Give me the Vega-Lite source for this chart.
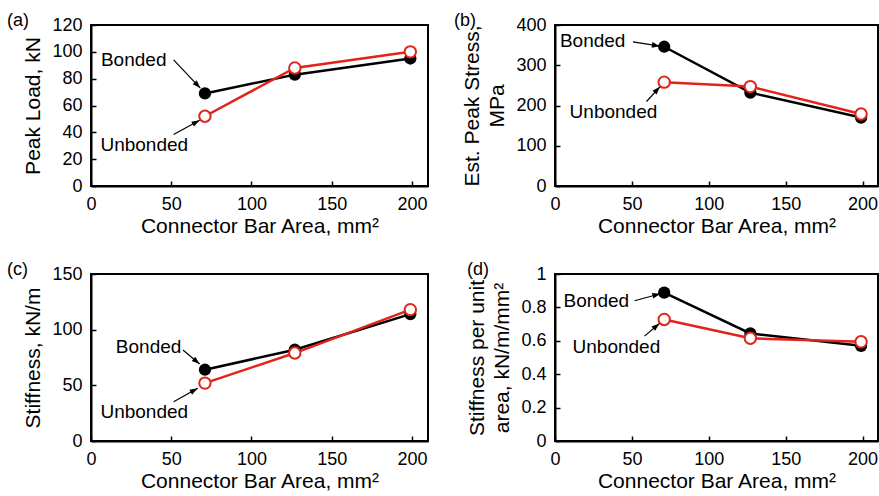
{
  "$schema": "https://vega.github.io/schema/vega-lite/v6.json",
  "padding": {"left": 6, "top": 11, "right": 0, "bottom": 0},
  "background": "white",
  "datasets": {
    "main": [
      {"panel": "a", "series": "Bonded", "area": 71, "value": 69},
      {"panel": "a", "series": "Bonded", "area": 127, "value": 83},
      {"panel": "a", "series": "Bonded", "area": 199, "value": 95},
      {"panel": "a", "series": "Unbonded", "area": 71, "value": 52},
      {"panel": "a", "series": "Unbonded", "area": 127, "value": 88},
      {"panel": "a", "series": "Unbonded", "area": 199, "value": 100},
      {"panel": "b", "series": "Bonded", "area": 71, "value": 346},
      {"panel": "b", "series": "Bonded", "area": 127, "value": 232},
      {"panel": "b", "series": "Bonded", "area": 199, "value": 170},
      {"panel": "b", "series": "Unbonded", "area": 71, "value": 258},
      {"panel": "b", "series": "Unbonded", "area": 127, "value": 247},
      {"panel": "b", "series": "Unbonded", "area": 199, "value": 179},
      {"panel": "c", "series": "Bonded", "area": 71, "value": 64},
      {"panel": "c", "series": "Bonded", "area": 127, "value": 82},
      {"panel": "c", "series": "Bonded", "area": 199, "value": 114},
      {"panel": "c", "series": "Unbonded", "area": 71, "value": 52},
      {"panel": "c", "series": "Unbonded", "area": 127, "value": 79},
      {"panel": "c", "series": "Unbonded", "area": 199, "value": 118},
      {"panel": "d", "series": "Bonded", "area": 71, "value": 0.888},
      {"panel": "d", "series": "Bonded", "area": 127, "value": 0.644},
      {"panel": "d", "series": "Bonded", "area": 199, "value": 0.570},
      {"panel": "d", "series": "Unbonded", "area": 71, "value": 0.728},
      {"panel": "d", "series": "Unbonded", "area": 127, "value": 0.615},
      {"panel": "d", "series": "Unbonded", "area": 199, "value": 0.594}
    ],
    "notes": [
      {"panel": "a", "series": "Bonded", "tx": 26.6, "ty": 94, "x1": 51.5, "y1": 94, "x2": 68.1, "y2": 73},
      {"panel": "a", "series": "Unbonded", "tx": 33.2, "ty": 30.4, "x1": 51.5, "y1": 38.4, "x2": 67.7, "y2": 49},
      {"panel": "b", "series": "Bonded", "tx": 24.5, "ty": 361, "x1": 50.7, "y1": 358, "x2": 68.2, "y2": 347.5},
      {"panel": "b", "series": "Unbonded", "tx": 38, "ty": 183.4, "x1": 59.5, "y1": 210, "x2": 68.2, "y2": 246.5},
      {"panel": "c", "series": "Bonded", "tx": 35.9, "ty": 84.1, "x1": 57.3, "y1": 81.7, "x2": 67.7, "y2": 69.2},
      {"panel": "c", "series": "Unbonded", "tx": 33.2, "ty": 25.7, "x1": 51.5, "y1": 35.3, "x2": 66.5, "y2": 47.3},
      {"panel": "d", "series": "Bonded", "tx": 26.9, "ty": 0.84, "x1": 51.7, "y1": 0.84, "x2": 68.5, "y2": 0.882},
      {"panel": "d", "series": "Unbonded", "tx": 39.9, "ty": 0.564, "x1": 58.2, "y1": 0.628, "x2": 67.9, "y2": 0.704}
    ]
  },
  "columns": 2,
  "align": "each",
  "spacing": {"column": 24, "row": 23},
  "concat": [
    {
      "width": 337, "height": 161,
      "title": {"text": "(a)", "dx": -84},
      "layer": [
        {"data": {"name": "main"}, "transform": [{"filter": "datum.panel === 'a'"}],
         "mark": {"type": "line", "strokeWidth": 2.5},
         "encoding": {
           "x": {"field": "area", "type": "quantitative", "scale": {"domain": [0, 210], "nice": false}, "axis": {"values": [0, 50, 100, 150, 200], "labelOverlap": false, "title": "Connector Bar Area, mm²"}},
           "y": {"field": "value", "type": "quantitative", "scale": {"domain": [0, 120], "nice": false}, "axis": {"values": [0, 20, 40, 60, 80, 100, 120], "labelOverlap": false, "title": "Peak Load, kN"}},
           "color": {"field": "series", "type": "nominal", "scale": {"domain": ["Bonded", "Unbonded"], "range": ["#000000", "#e2231a"]}, "legend": null}
         }},
        {"data": {"name": "main"}, "transform": [{"filter": "datum.panel === 'a' && datum.series === 'Bonded'"}],
         "mark": {"type": "point", "filled": true, "color": "#000000", "size": 150, "opacity": 1},
         "encoding": {"x": {"field": "area", "type": "quantitative"}, "y": {"field": "value", "type": "quantitative"}}},
        {"data": {"name": "main"}, "transform": [{"filter": "datum.panel === 'a' && datum.series === 'Unbonded'"}],
         "mark": {"type": "point", "filled": true, "fill": "white", "stroke": "#e2231a", "strokeWidth": 2, "size": 130, "opacity": 1},
         "encoding": {"x": {"field": "area", "type": "quantitative"}, "y": {"field": "value", "type": "quantitative"}}},
        {"data": {"name": "notes"}, "transform": [{"filter": "datum.panel === 'a'"}],
         "mark": {"type": "text", "fontSize": 19, "font": "Liberation Sans", "color": "black", "align": "center", "baseline": "middle"},
         "encoding": {"x": {"field": "tx", "type": "quantitative"}, "y": {"field": "ty", "type": "quantitative"}, "text": {"field": "series"}}},
        {"data": {"name": "notes"}, "transform": [{"filter": "datum.panel === 'a'"}],
         "mark": {"type": "rule", "color": "black", "strokeWidth": 1.2},
         "encoding": {"x": {"field": "x1", "type": "quantitative"}, "y": {"field": "y1", "type": "quantitative"}, "x2": {"field": "x2"}, "y2": {"field": "y2"}}},
        {"data": {"name": "notes"}, "transform": [{"filter": "datum.panel === 'a' && datum.series === 'Bonded'"}],
         "mark": {"type": "point", "shape": "M0,0L0.35,1L-0.35,1Z", "filled": true, "color": "black", "opacity": 1, "size": 256, "angle": 136},
         "encoding": {"x": {"field": "x2", "type": "quantitative"}, "y": {"field": "y2", "type": "quantitative"}}},
        {"data": {"name": "notes"}, "transform": [{"filter": "datum.panel === 'a' && datum.series === 'Unbonded'"}],
         "mark": {"type": "point", "shape": "M0,0L0.35,1L-0.35,1Z", "filled": true, "color": "black", "opacity": 1, "size": 256, "angle": 61},
         "encoding": {"x": {"field": "x2", "type": "quantitative"}, "y": {"field": "y2", "type": "quantitative"}}}
      ]
    },
    {
      "width": 323, "height": 161,
      "title": {"text": "(b)", "dx": -101},
      "layer": [
        {"data": {"name": "main"}, "transform": [{"filter": "datum.panel === 'b'"}],
         "mark": {"type": "line", "strokeWidth": 2.5},
         "encoding": {
           "x": {"field": "area", "type": "quantitative", "scale": {"domain": [0, 210], "nice": false}, "axis": {"values": [0, 50, 100, 150, 200], "labelOverlap": false, "title": "Connector Bar Area, mm²"}},
           "y": {"field": "value", "type": "quantitative", "scale": {"domain": [0, 400], "nice": false}, "axis": {"values": [0, 100, 200, 300, 400], "labelOverlap": false, "title": ["Est. Peak Stress,", "MPa"]}},
           "color": {"field": "series", "type": "nominal", "scale": {"domain": ["Bonded", "Unbonded"], "range": ["#000000", "#e2231a"]}, "legend": null}
         }},
        {"data": {"name": "main"}, "transform": [{"filter": "datum.panel === 'b' && datum.series === 'Bonded'"}],
         "mark": {"type": "point", "filled": true, "color": "#000000", "size": 150, "opacity": 1},
         "encoding": {"x": {"field": "area", "type": "quantitative"}, "y": {"field": "value", "type": "quantitative"}}},
        {"data": {"name": "main"}, "transform": [{"filter": "datum.panel === 'b' && datum.series === 'Unbonded'"}],
         "mark": {"type": "point", "filled": true, "fill": "white", "stroke": "#e2231a", "strokeWidth": 2, "size": 130, "opacity": 1},
         "encoding": {"x": {"field": "area", "type": "quantitative"}, "y": {"field": "value", "type": "quantitative"}}},
        {"data": {"name": "notes"}, "transform": [{"filter": "datum.panel === 'b'"}],
         "mark": {"type": "text", "fontSize": 19, "font": "Liberation Sans", "color": "black", "align": "center", "baseline": "middle"},
         "encoding": {"x": {"field": "tx", "type": "quantitative"}, "y": {"field": "ty", "type": "quantitative"}, "text": {"field": "series"}}},
        {"data": {"name": "notes"}, "transform": [{"filter": "datum.panel === 'b'"}],
         "mark": {"type": "rule", "color": "black", "strokeWidth": 1.2},
         "encoding": {"x": {"field": "x1", "type": "quantitative"}, "y": {"field": "y1", "type": "quantitative"}, "x2": {"field": "x2"}, "y2": {"field": "y2"}}},
        {"data": {"name": "notes"}, "transform": [{"filter": "datum.panel === 'b' && datum.series === 'Bonded'"}],
         "mark": {"type": "point", "shape": "M0,0L0.35,1L-0.35,1Z", "filled": true, "color": "black", "opacity": 1, "size": 256, "angle": 99},
         "encoding": {"x": {"field": "x2", "type": "quantitative"}, "y": {"field": "y2", "type": "quantitative"}}},
        {"data": {"name": "notes"}, "transform": [{"filter": "datum.panel === 'b' && datum.series === 'Unbonded'"}],
         "mark": {"type": "point", "shape": "M0,0L0.35,1L-0.35,1Z", "filled": true, "color": "black", "opacity": 1, "size": 256, "angle": 42},
         "encoding": {"x": {"field": "x2", "type": "quantitative"}, "y": {"field": "y2", "type": "quantitative"}}}
      ]
    },
    {
      "width": 337, "height": 167,
      "title": {"text": "(c)", "dx": -84},
      "layer": [
        {"data": {"name": "main"}, "transform": [{"filter": "datum.panel === 'c'"}],
         "mark": {"type": "line", "strokeWidth": 2.5},
         "encoding": {
           "x": {"field": "area", "type": "quantitative", "scale": {"domain": [0, 210], "nice": false}, "axis": {"values": [0, 50, 100, 150, 200], "labelOverlap": false, "title": "Connector Bar Area, mm²"}},
           "y": {"field": "value", "type": "quantitative", "scale": {"domain": [0, 150], "nice": false}, "axis": {"values": [0, 50, 100, 150], "labelOverlap": false, "title": "Stiffness, kN/m"}},
           "color": {"field": "series", "type": "nominal", "scale": {"domain": ["Bonded", "Unbonded"], "range": ["#000000", "#e2231a"]}, "legend": null}
         }},
        {"data": {"name": "main"}, "transform": [{"filter": "datum.panel === 'c' && datum.series === 'Bonded'"}],
         "mark": {"type": "point", "filled": true, "color": "#000000", "size": 150, "opacity": 1},
         "encoding": {"x": {"field": "area", "type": "quantitative"}, "y": {"field": "value", "type": "quantitative"}}},
        {"data": {"name": "main"}, "transform": [{"filter": "datum.panel === 'c' && datum.series === 'Unbonded'"}],
         "mark": {"type": "point", "filled": true, "fill": "white", "stroke": "#e2231a", "strokeWidth": 2, "size": 130, "opacity": 1},
         "encoding": {"x": {"field": "area", "type": "quantitative"}, "y": {"field": "value", "type": "quantitative"}}},
        {"data": {"name": "notes"}, "transform": [{"filter": "datum.panel === 'c'"}],
         "mark": {"type": "text", "fontSize": 19, "font": "Liberation Sans", "color": "black", "align": "center", "baseline": "middle"},
         "encoding": {"x": {"field": "tx", "type": "quantitative"}, "y": {"field": "ty", "type": "quantitative"}, "text": {"field": "series"}}},
        {"data": {"name": "notes"}, "transform": [{"filter": "datum.panel === 'c'"}],
         "mark": {"type": "rule", "color": "black", "strokeWidth": 1.2},
         "encoding": {"x": {"field": "x1", "type": "quantitative"}, "y": {"field": "y1", "type": "quantitative"}, "x2": {"field": "x2"}, "y2": {"field": "y2"}}},
        {"data": {"name": "notes"}, "transform": [{"filter": "datum.panel === 'c' && datum.series === 'Bonded'"}],
         "mark": {"type": "point", "shape": "M0,0L0.35,1L-0.35,1Z", "filled": true, "color": "black", "opacity": 1, "size": 256, "angle": 130},
         "encoding": {"x": {"field": "x2", "type": "quantitative"}, "y": {"field": "y2", "type": "quantitative"}}},
        {"data": {"name": "notes"}, "transform": [{"filter": "datum.panel === 'c' && datum.series === 'Unbonded'"}],
         "mark": {"type": "point", "shape": "M0,0L0.35,1L-0.35,1Z", "filled": true, "color": "black", "opacity": 1, "size": 256, "angle": 61},
         "encoding": {"x": {"field": "x2", "type": "quantitative"}, "y": {"field": "y2", "type": "quantitative"}}}
      ]
    },
    {
      "width": 323, "height": 167,
      "title": {"text": "(d)", "dx": -88},
      "layer": [
        {"data": {"name": "main"}, "transform": [{"filter": "datum.panel === 'd'"}],
         "mark": {"type": "line", "strokeWidth": 2.5},
         "encoding": {
           "x": {"field": "area", "type": "quantitative", "scale": {"domain": [0, 210], "nice": false}, "axis": {"values": [0, 50, 100, 150, 200], "labelOverlap": false, "title": "Connector Bar Area, mm²"}},
           "y": {"field": "value", "type": "quantitative", "scale": {"domain": [0, 1], "nice": false}, "axis": {"values": [0, 0.2, 0.4, 0.6, 0.8, 1], "format": "~g", "labelOverlap": false, "title": ["Stiffness per unit", "area, kN/m/mm²"]}},
           "color": {"field": "series", "type": "nominal", "scale": {"domain": ["Bonded", "Unbonded"], "range": ["#000000", "#e2231a"]}, "legend": null}
         }},
        {"data": {"name": "main"}, "transform": [{"filter": "datum.panel === 'd' && datum.series === 'Bonded'"}],
         "mark": {"type": "point", "filled": true, "color": "#000000", "size": 150, "opacity": 1},
         "encoding": {"x": {"field": "area", "type": "quantitative"}, "y": {"field": "value", "type": "quantitative"}}},
        {"data": {"name": "main"}, "transform": [{"filter": "datum.panel === 'd' && datum.series === 'Unbonded'"}],
         "mark": {"type": "point", "filled": true, "fill": "white", "stroke": "#e2231a", "strokeWidth": 2, "size": 130, "opacity": 1},
         "encoding": {"x": {"field": "area", "type": "quantitative"}, "y": {"field": "value", "type": "quantitative"}}},
        {"data": {"name": "notes"}, "transform": [{"filter": "datum.panel === 'd'"}],
         "mark": {"type": "text", "fontSize": 19, "font": "Liberation Sans", "color": "black", "align": "center", "baseline": "middle"},
         "encoding": {"x": {"field": "tx", "type": "quantitative"}, "y": {"field": "ty", "type": "quantitative"}, "text": {"field": "series"}}},
        {"data": {"name": "notes"}, "transform": [{"filter": "datum.panel === 'd'"}],
         "mark": {"type": "rule", "color": "black", "strokeWidth": 1.2},
         "encoding": {"x": {"field": "x1", "type": "quantitative"}, "y": {"field": "y1", "type": "quantitative"}, "x2": {"field": "x2"}, "y2": {"field": "y2"}}},
        {"data": {"name": "notes"}, "transform": [{"filter": "datum.panel === 'd' && datum.series === 'Bonded'"}],
         "mark": {"type": "point", "shape": "M0,0L0.35,1L-0.35,1Z", "filled": true, "color": "black", "opacity": 1, "size": 256, "angle": 75},
         "encoding": {"x": {"field": "x2", "type": "quantitative"}, "y": {"field": "y2", "type": "quantitative"}}},
        {"data": {"name": "notes"}, "transform": [{"filter": "datum.panel === 'd' && datum.series === 'Unbonded'"}],
         "mark": {"type": "point", "shape": "M0,0L0.35,1L-0.35,1Z", "filled": true, "color": "black", "opacity": 1, "size": 256, "angle": 50},
         "encoding": {"x": {"field": "x2", "type": "quantitative"}, "y": {"field": "y2", "type": "quantitative"}}}
      ]
    }
  ],
  "config": {
    "font": "Liberation Sans",
    "view": {"stroke": "black", "strokeWidth": 2},
    "title": {"fontSize": 18, "fontWeight": "normal", "anchor": "start", "frame": "group", "offset": -14, "color": "black", "font": "Liberation Sans"},
    "axis": {
      "grid": false,
      "tickCount": 12,
      "domainColor": "black", "domainWidth": 2,
      "tickColor": "black", "tickWidth": 1.5, "tickSize": -5,
      "labelColor": "black", "labelFontSize": 18, "labelPadding": 14, "labelFont": "Liberation Sans", "labelOverlap": false,
      "titleColor": "black", "titleFontSize": 21, "titleFontWeight": "normal", "titleFont": "Liberation Sans", "titleLineHeight": 25
    },
    "axisX": {"titlePadding": 2, "labelFlush": false},
    "axisY": {"titlePadding": 8, "labelFlush": false}
  }
}
